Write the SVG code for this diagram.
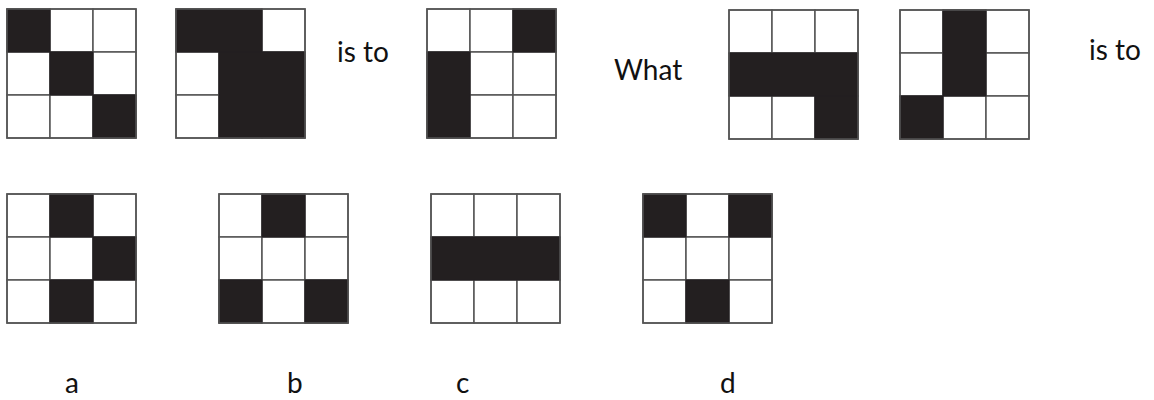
<svg xmlns="http://www.w3.org/2000/svg" width="1154" height="400" viewBox="0 0 1154 400">
<style>
.cell{fill:#fff;stroke:#555;stroke-width:1.5}
.blk{fill:#231f20;stroke:#231f20;stroke-width:1}
.frame{fill:none;stroke:#555;stroke-width:1.5}
.t{font-family:Lato,"Open Sans","Liberation Sans",sans-serif;font-size:28px;fill:#111}
</style>
<defs>
<g id="grid">
<rect class="cell" x="0" y="0" width="43" height="43"/>
<rect class="cell" x="43" y="0" width="43" height="43"/>
<rect class="cell" x="86" y="0" width="43" height="43"/>
<rect class="cell" x="0" y="43" width="43" height="43"/>
<rect class="cell" x="43" y="43" width="43" height="43"/>
<rect class="cell" x="86" y="43" width="43" height="43"/>
<rect class="cell" x="0" y="86" width="43" height="43"/>
<rect class="cell" x="43" y="86" width="43" height="43"/>
<rect class="cell" x="86" y="86" width="43" height="43"/>
</g>
</defs>
<g id="grid1" transform="translate(7,9)">
<use href="#grid"/>
<rect class="blk" x="0" y="0" width="43" height="43"/>
<rect class="blk" x="43" y="43" width="43" height="43"/>
<rect class="blk" x="86" y="86" width="43" height="43"/>
<rect class="frame" x="0" y="0" width="129" height="129"/>
</g>
<g id="grid2" transform="translate(176,9)">
<use href="#grid"/>
<rect class="blk" x="0" y="0" width="86" height="43"/>
<rect class="blk" x="43" y="43" width="86" height="86"/>
<rect class="frame" x="0" y="0" width="129" height="129"/>
</g>
<g id="grid3" transform="translate(427,9)">
<use href="#grid"/>
<rect class="blk" x="86" y="0" width="43" height="43"/>
<rect class="blk" x="0" y="43" width="43" height="86"/>
<rect class="frame" x="0" y="0" width="129" height="129"/>
</g>
<g id="grid4" transform="translate(729,10)">
<use href="#grid"/>
<rect class="blk" x="0" y="43" width="129" height="43"/>
<rect class="blk" x="86" y="86" width="43" height="43"/>
<rect class="frame" x="0" y="0" width="129" height="129"/>
</g>
<g id="grid5" transform="translate(900,10)">
<use href="#grid"/>
<rect class="blk" x="43" y="0" width="43" height="86"/>
<rect class="blk" x="0" y="86" width="43" height="43"/>
<rect class="frame" x="0" y="0" width="129" height="129"/>
</g>
<g id="optA" transform="translate(7,194)">
<use href="#grid"/>
<rect class="blk" x="43" y="0" width="43" height="43"/>
<rect class="blk" x="86" y="43" width="43" height="43"/>
<rect class="blk" x="43" y="86" width="43" height="43"/>
<rect class="frame" x="0" y="0" width="129" height="129"/>
</g>
<g id="optB" transform="translate(219,194)">
<use href="#grid"/>
<rect class="blk" x="43" y="0" width="43" height="43"/>
<rect class="blk" x="0" y="86" width="43" height="43"/>
<rect class="blk" x="86" y="86" width="43" height="43"/>
<rect class="frame" x="0" y="0" width="129" height="129"/>
</g>
<g id="optC" transform="translate(431,194)">
<use href="#grid"/>
<rect class="blk" x="0" y="43" width="129" height="43"/>
<rect class="frame" x="0" y="0" width="129" height="129"/>
</g>
<g id="optD" transform="translate(643,194)">
<use href="#grid"/>
<rect class="blk" x="0" y="0" width="43" height="43"/>
<rect class="blk" x="86" y="0" width="43" height="43"/>
<rect class="blk" x="43" y="86" width="43" height="43"/>
<rect class="frame" x="0" y="0" width="129" height="129"/>
</g>
<g id="labels">
<text class="t" x="337" y="62">is to</text>
<text class="t" x="614" y="80">What</text>
<text class="t" x="1089" y="60">is to</text>
<text class="t" x="65" y="393">a</text>
<text class="t" x="287" y="393">b</text>
<text class="t" x="456" y="393">c</text>
<text class="t" x="720" y="393">d</text>
</g>
</svg>
